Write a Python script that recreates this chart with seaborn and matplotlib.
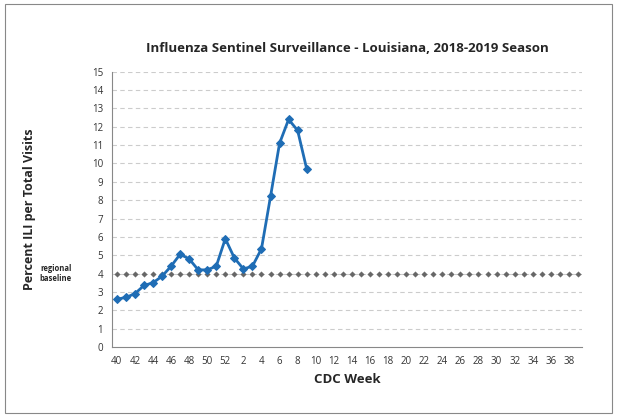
import matplotlib
matplotlib.use("Agg")
import matplotlib.pyplot as plt
import seaborn as sns
import pandas as pd

weeks = [40,41,42,43,44,45,46,47,48,49,50,51,52] + list(range(1,40))
ili_values = [2.6,2.7,2.9,3.35,3.5,3.85,4.4,5.05,4.8,4.2,4.2,4.4,5.9,4.85,4.25,4.4,5.35,8.2,11.1,12.4,11.8,9.7]
baseline = 4.0

sns.set_style("white")
plt.rcParams['font.family'] = ['Open Sans', 'DejaVu Sans']

pos = list(range(len(weeks)))
df = pd.DataFrame({"pos": pos[:len(ili_values)], "ili": ili_values})
bf = pd.DataFrame({"pos": pos, "b": [baseline]*len(weeks)})

fig = plt.figure(figsize=(6.17, 4.17), dpi=100)
fig.patches.append(plt.Rectangle((0.008, 0.01), 0.984, 0.98, transform=fig.transFigure,
                                 fill=False, edgecolor="#888888", linewidth=0.8))
ax = fig.add_axes([0.182, 0.168, 0.762, 0.66])
for y in range(1, 16):
    ax.axhline(y, color="#cccccc", linestyle=(0, (4, 3)), linewidth=0.8, zorder=0)
sns.scatterplot(data=bf, x="pos", y="b", ax=ax, marker="D", s=8, color="#666666",
                edgecolor="#666666", zorder=2, legend=False)
sns.lineplot(data=df, x="pos", y="ili", ax=ax, color="#1f6db5", linewidth=2.0,
             marker="D", markersize=4, markeredgecolor="#1f6db5", zorder=3)
ax.set_xlim(-0.5, len(weeks) - 0.5)
ax.set_ylim(0, 15)
ax.set_yticks(range(0, 16))
ax.set_xticks(pos)
ax.set_xticklabels([str(w) if i % 2 == 0 else "" for i, w in enumerate(weeks)])
ax.tick_params(axis="both", labelsize=7, length=3, color="#888888", labelcolor="#333333")
for s in ["top", "right"]:
    ax.spines[s].set_visible(False)
for s in ["left", "bottom"]:
    ax.spines[s].set_color("#888888")
ax.set_xlabel("CDC Week", fontsize=9.5, fontweight="bold")
ax.set_ylabel("Percent ILI per Total Visits", fontsize=9, fontweight="bold", labelpad=40)
ax.set_title("Influenza Sentinel Surveillance - Louisiana, 2018-2019 Season",
             fontsize=9.5, fontweight="bold", pad=14)
ax.text(-0.12, baseline, "regional\nbaseline", transform=ax.get_yaxis_transform(),
        fontsize=5.5, fontweight="bold", ha="center", va="center")
fig.savefig("out.png", dpi=100)
